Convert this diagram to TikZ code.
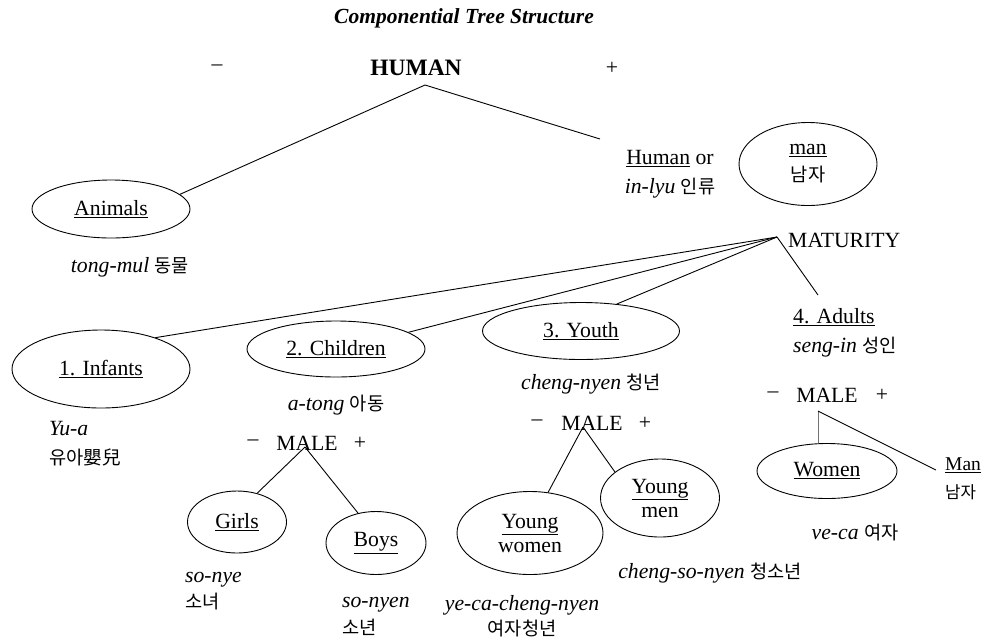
\documentclass[tikz,border=0pt]{standalone}
\usepackage{fontspec}
\setmainfont{Liberation Serif}
\newfontfamily\krfont{Noto Sans CJK KR}[Scale=0.86]
\usetikzlibrary{shapes.geometric}
\newcommand{\kor}[1]{{\krfont #1}}

\begin{document}
\begin{tikzpicture}[
    x=1pt, y=-1pt,
    font=\fontsize{21.7}{29}\selectfont,
    every node/.style={inner sep=0pt, align=center},
    oval/.style 2 args={ellipse, draw, line width=0.9pt, minimum width=#1pt, minimum height=#2pt},
    link/.style={line width=0.9pt},
    twoline/.style={font=\fontsize{21.7}{24}\selectfont}
  ]
    \useasboundingbox (0,0) rectangle (984,641);

    \node[font=\fontsize{21.5}{26}\selectfont\bfseries\itshape] (title) at (464,18) {Componential Tree Structure};
    \node (hmin) at (217,68) {\textendash};
    \node[font=\fontsize{23.5}{28}\selectfont\bfseries] (human) at (416,68) {HUMAN};
    \node (hplus) at (612,68) {+};
    \coordinate (htop) at (425,85);
    \coordinate (hend) at (600,139);

    \node[oval={158}{58}] (anim) at (111,209) {\underline{Animals}};
    \node (animkr) at (130,267) {\textit{tong-mul} \kor{동물}};
    \node (humor) at (670,174) {\underline{Human} or\\\textit{in-lyu} \kor{인류}};
    \node[oval={138}{83}, font=\fontsize{21.7}{27}\selectfont] (man) at (808,164) {\underline{man}\\\kor{남자}};

    \node[anchor=west] (mat) at (788,240) {MATURITY};
    \coordinate (mtop) at (777,237);
    \coordinate (aend) at (818,295);

    \node[oval={178}{78}] (inf) at (101,369) {\underline{1. Infants}};
    \node[anchor=west, align=left] (infkr) at (49,444) {\textit{Yu-a}\\\kor{유아嬰兒}};
    \node[oval={178}{56}] (chi) at (336,349) {\underline{2. Children}};
    \node (chikr) at (336,405) {\textit{a-tong} \kor{아동}};
    \node[oval={197}{57}] (yth) at (581,331) {\underline{3. Youth}};
    \node (ythkr) at (591,384) {\textit{cheng-nyen} \kor{청년}};
    \node[anchor=west, align=left] (adu) at (793,333) {\underline{4. Adults}\\\textit{seng-in} \kor{성인}};

    \node (cmin) at (253,443) {\textendash};
    \node (cmale) at (307,443) {MALE};
    \node (cplus) at (360,443) {+};
    \coordinate (ctop) at (305,447);
    \node[oval={99}{62}] (girl) at (237,522) {\underline{Girls}};
    \node[oval={100}{63}] (boy) at (376,543) {\underline{Boys}};
    \node[anchor=west, align=left, font=\fontsize{21.7}{26}\selectfont] (girlkr) at (185,591) {\textit{so-nye}\\\kor{소녀}};
    \node[anchor=west, align=left, font=\fontsize{21.7}{27}\selectfont] (boykr) at (342,616) {\textit{so-nyen}\\\kor{소년}};

    \node (ymin) at (537,423) {\textendash};
    \node (ymale) at (592,423) {MALE};
    \node (yplus) at (645,423) {+};
    \coordinate (ytop) at (583,427);
    \node[oval={146}{83}, twoline] (ywom) at (530,533) {\underline{Young}\\women};
    \node[oval={119}{78}, twoline] (ymen) at (660,498) {\underline{Young}\\men};
    \node (ymenkr) at (710,573) {\textit{cheng-so-nyen} \kor{청소년}};
    \node[font=\fontsize{21.7}{25}\selectfont] (ywomkr) at (522,616) {\textit{ye-ca-cheng-nyen}\\\kor{여자청년}};

    \node (amin) at (773,395) {\textendash};
    \node (amale) at (827,395) {MALE};
    \node (aplus) at (882,395) {+};
    \coordinate (atop) at (818,411);
    \coordinate (mend) at (936,470);
    \node[oval={140}{55}] (wom) at (827,471) {\underline{Women}};
    \node (womkr) at (855,533) {\textit{ve-ca} \kor{여자}};
    \node[anchor=west, align=left, font=\fontsize{19.5}{28}\selectfont] (mankr) at (945,479) {\underline{Man}\\\kor{남자}};

    \draw[link] (htop) -- (anim.12);
    \draw[link] (htop) -- (hend);
    \draw[link] (mtop) -- (inf.30);
    \draw[link] (mtop) -- (chi.13);
    \draw[link] (mtop) -- (yth.37);
    \draw[link] (mtop) -- (aend);
    \draw[link] (ctop) -- (girl.55);
    \draw[link] (ctop) -- (boy.121);
    \draw[link] (ytop) -- (ywom.66);
    \draw[link] (ytop) -- (ymen.150);
    \draw[link, black!55] (atop) -- (atop |- wom.north);
    \draw[link] (atop) -- (mend);
  \end{tikzpicture}
\end{document}
